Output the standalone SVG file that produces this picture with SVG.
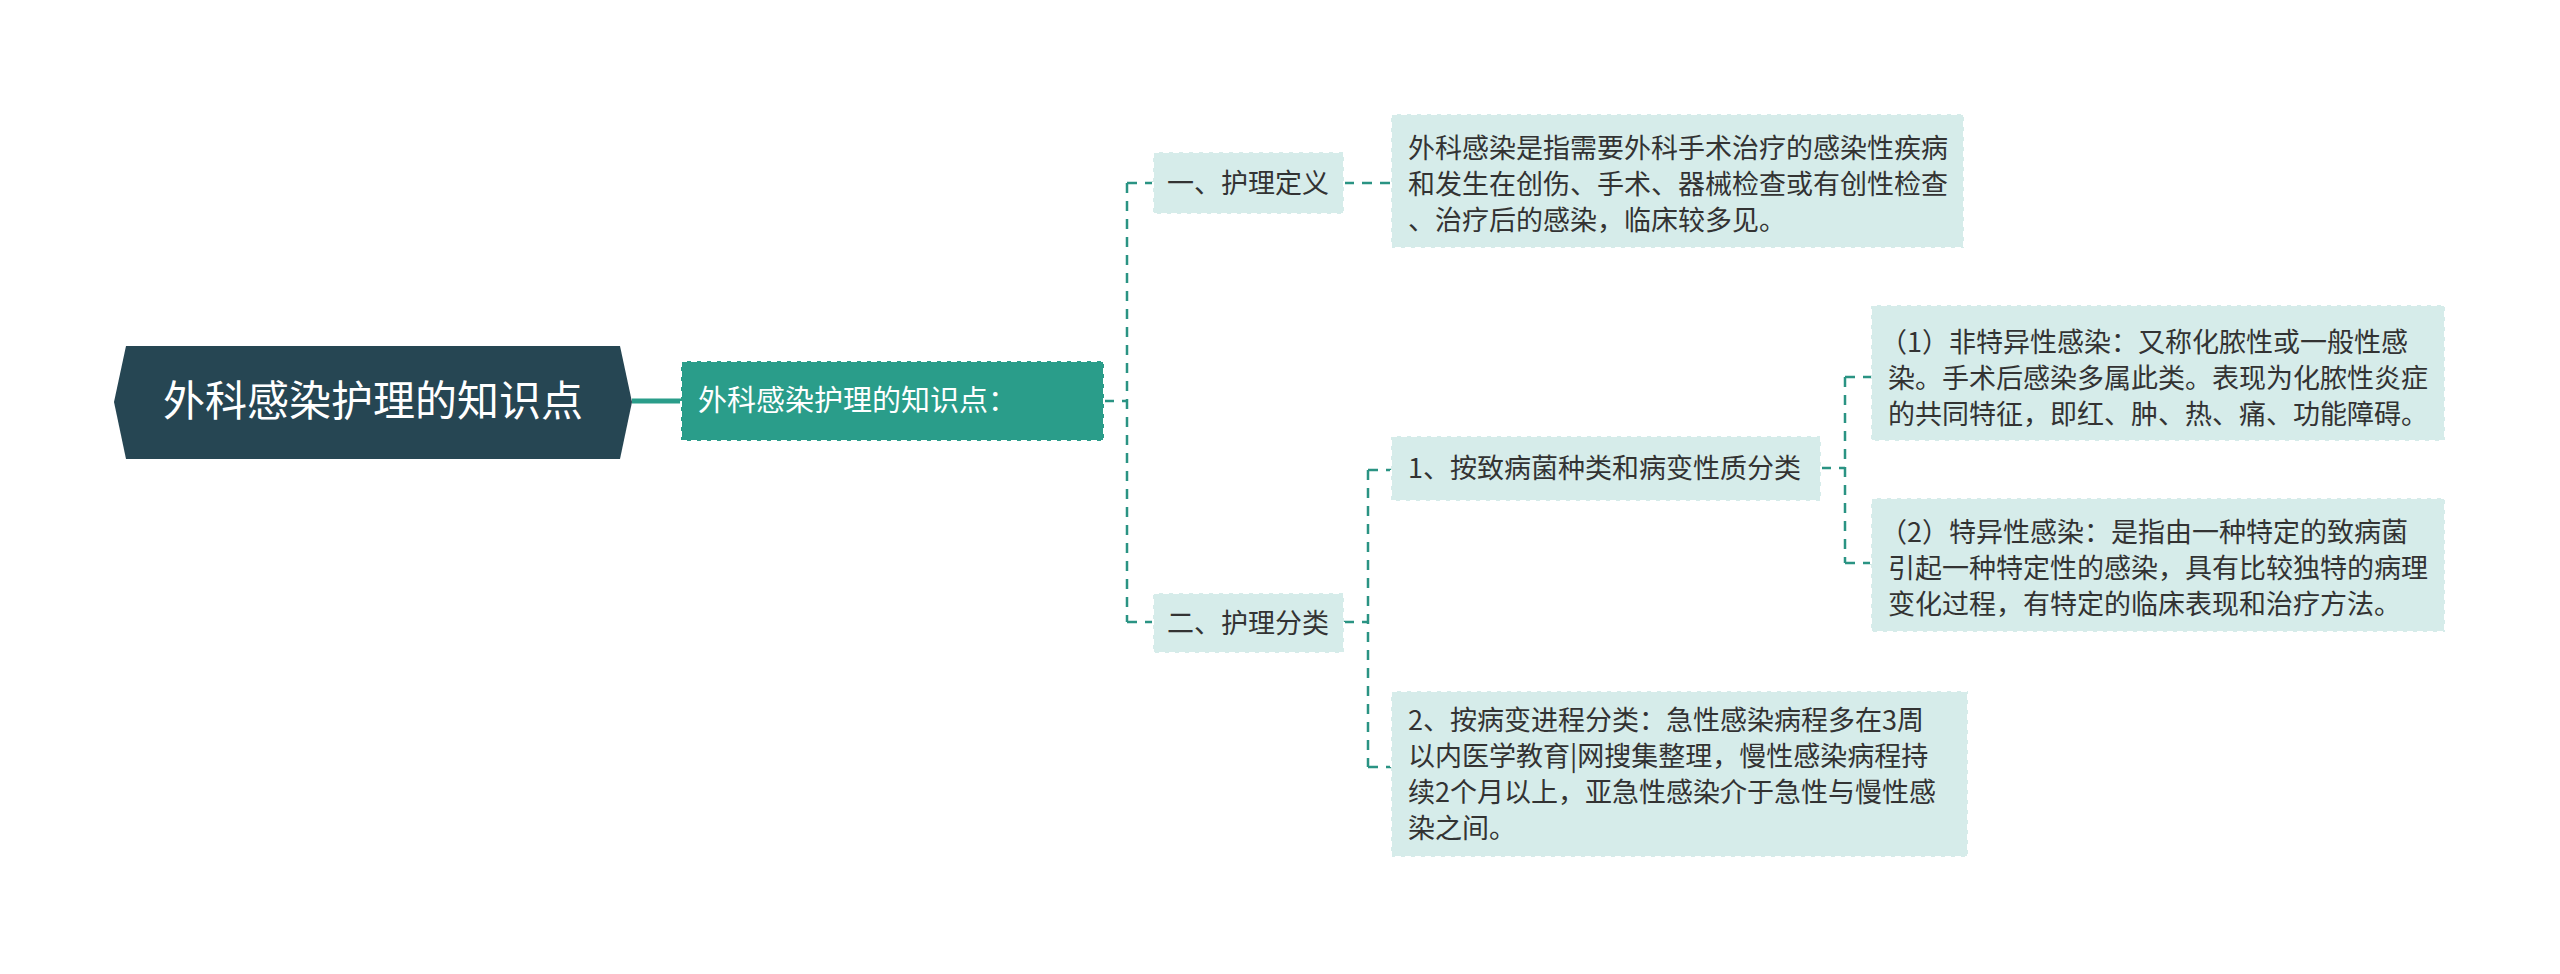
<svg xmlns="http://www.w3.org/2000/svg" width="2560" height="974" viewBox="0 0 2560 974">
<style>
text{font-family:"Noto Sans CJK SC","Liberation Sans",sans-serif;}
.leaf{fill:#d6ecea;stroke:#ffffff;stroke-width:2;stroke-dasharray:6 4;}
.t{font-size:27px;fill:#333333;}
.c{fill:none;stroke:#2a9383;stroke-width:2.5;stroke-dasharray:10 8;}
</style>
<rect width="2560" height="974" fill="#ffffff"/>
<g id="connectors">
<line x1="632" y1="401" x2="681" y2="401" stroke="#2a9d8a" stroke-width="5"/>
<path class="c" d="M1104 401 H1127 M1127 183 V622 M1127 183 H1153 M1127 622 H1153"/>
<path class="c" d="M1344 183 H1391"/>
<path class="c" d="M1344 622 H1368 M1368 470 V767 M1368 470 H1391 M1368 767 H1391"/>
<path class="c" d="M1821 468 H1845 M1845 377 V563 M1845 377 H1871 M1845 563 H1871"/>
</g>
<g id="root">
<polygon points="126,346 620,346 632,402 620,459 126,459 114,402" fill="#264653"/>
<text x="373" y="416" font-size="42" fill="#ffffff" text-anchor="middle">外科感染护理的知识点</text>
</g>
<g id="n1">
<rect x="681" y="361" width="423" height="80" fill="#2a9d8a" stroke="#ffffff" stroke-width="2" stroke-dasharray="6 4"/>
<text x="698" y="411" font-size="29" fill="#ffffff">外科感染护理的知识点：</text>
</g>
<g id="n2">
<rect class="leaf" x="1153" y="152" width="191" height="62"/>
<text class="t" x="1167" y="193">一、护理定义</text>
</g>
<g id="n3">
<rect class="leaf" x="1391" y="114" width="573" height="134"/>
<text class="t" x="1408" y="158">外科感染是指需要外科手术治疗的感染性疾病</text>
<text class="t" x="1408" y="194">和发生在创伤、手术、器械检查或有创性检查</text>
<text class="t" x="1408" y="230">、治疗后的感染，临床较多见。</text>
</g>
<g id="n4">
<rect class="leaf" x="1153" y="593" width="191" height="60"/>
<text class="t" x="1167" y="633">二、护理分类</text>
</g>
<g id="n5">
<rect class="leaf" x="1391" y="436" width="430" height="65"/>
<text class="t" x="1408" y="478">1、按致病菌种类和病变性质分类</text>
</g>
<g id="n6">
<rect class="leaf" x="1871" y="305" width="574" height="136"/>
<text class="t" x="1880" y="352">（1）非特异性感染：又称化脓性或一般性感</text>
<text class="t" x="1888" y="388">染。手术后感染多属此类。表现为化脓性炎症</text>
<text class="t" x="1888" y="424">的共同特征，即红、肿、热、痛、功能障碍。</text>
</g>
<g id="n7">
<rect class="leaf" x="1871" y="498" width="574" height="134"/>
<text class="t" x="1880" y="542">（2）特异性感染：是指由一种特定的致病菌</text>
<text class="t" x="1888" y="578">引起一种特定性的感染，具有比较独特的病理</text>
<text class="t" x="1888" y="614">变化过程，有特定的临床表现和治疗方法。</text>
</g>
<g id="n8">
<rect class="leaf" x="1391" y="691" width="577" height="166"/>
<text class="t" x="1408" y="730">2、按病变进程分类：急性感染病程多在3周</text>
<text class="t" x="1408" y="766">以内医学教育|网搜集整理，慢性感染病程持</text>
<text class="t" x="1408" y="802">续2个月以上，亚急性感染介于急性与慢性感</text>
<text class="t" x="1408" y="838">染之间。</text>
</g>
</svg>
